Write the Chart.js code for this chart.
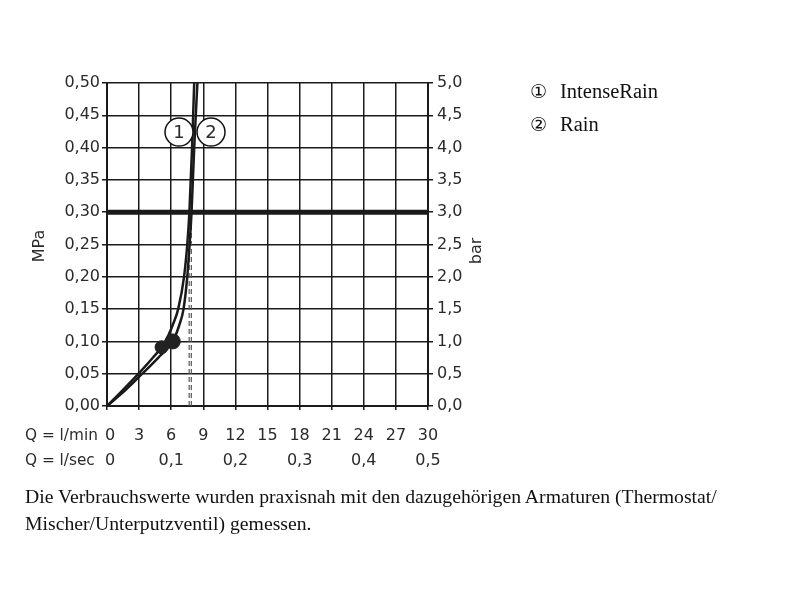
<!DOCTYPE html>
<html>
<head>
<meta charset="utf-8">
<script src="https://cdn.jsdelivr.net/npm/chart.js@4.4.1/dist/chart.umd.min.js"></script>
<style>
  body { margin: 0; background: #fff; }
  #wrap { position: relative; width: 800px; height: 600px; }
  #chart { position: absolute; left: 0; top: 0; }
  .legend { position: absolute; left: 530px; font-family: "Liberation Serif", serif; font-size: 20.5px; line-height: 22px; color: #111; }
  .legend span.num { font-family: "DejaVu Sans", sans-serif; font-size: 19px; margin-right: 13px; }
  .caption { position: absolute; left: 25px; top: 483px; font-family: "Liberation Serif", serif; font-size: 19.7px; line-height: 27px; color: #111; white-space: nowrap; }
</style>
</head>
<body>
<div id="wrap">
  <canvas id="chart" width="800" height="600"></canvas>
  <div class="legend" style="top:80px"><span class="num">①</span>IntenseRain</div>
  <div class="legend" style="top:113px"><span class="num">②</span>Rain</div>
  <div class="caption">Die Verbrauchswerte wurden praxisnah mit den dazugehörigen Armaturen (Thermostat/<br>Mischer/Unterputzventil) gemessen.</div>
</div>
<script>
// flow axis (l/min) and the second row in l/sec
const flowMin = [0, 3, 6, 9, 12, 15, 18, 21, 24, 27, 30];
const flowSec = ['0', '', '0,1', '', '0,2', '', '0,3', '', '0,4', '', '0,5'];
const mpaTicks = [0, 0.05, 0.1, 0.15, 0.2, 0.25, 0.3, 0.35, 0.4, 0.45, 0.5];
const barTicks = [0, 0.5, 1, 1.5, 2, 2.5, 3, 3.5, 4, 4.5, 5];

// curve 1: IntenseRain
const intenseQ = [0, 1.5, 2.95, 4.3, 5.1, 5.75, 6.25, 6.65, 7.2, 7.5, 7.7, 7.95, 8.15];
const intenseP = [0, 0.025, 0.05, 0.075, 0.091, 0.11, 0.13, 0.15, 0.2, 0.25, 0.3, 0.4, 0.5];
// curve 2: Rain
const rainQ = [0, 1.75, 3.3, 4.8, 6.15, 6.75, 7.15, 7.5, 7.72, 7.9, 8.15, 8.45];
const rainP = [0, 0.025, 0.05, 0.075, 0.1, 0.125, 0.15, 0.2, 0.25, 0.3, 0.4, 0.5];

// operating points
const dotQ = [5.1, 6.15];
const dotP = [0.091, 0.1];

// reference pressure line and the double dashed flow line
const limitP = 0.3;
const dashQ = [7.68, 7.88];

// numbered callouts
const markNames = ['1', '2'];
const markQ = [6.73, 9.72];
const markP = [0.424, 0.424];

const pts = (xs, ys) => xs.map((x, i) => ({ x: x, y: ys[i] }));
const comma = (v, d) => v.toFixed(d).replace('.', ',');

const tickFont = { family: 'DejaVu Sans', size: 16 };
const textColor = '#2a2a2a';

const labelPlugin = {
  id: 'labels',
  afterDraw(chart) {
    const ctx = chart.ctx;
    const x = chart.scales.x, y = chart.scales.y;
    ctx.save();
    ctx.fillStyle = textColor;
    ctx.textBaseline = 'middle';
    // two rows of flow labels
    ctx.textAlign = 'left';
    ctx.font = '15.3px "DejaVu Sans"';
    ctx.fillText('Q = l/min', 25, 436);
    ctx.fillText('Q = l/sec', 25, 461);
    ctx.font = '16px "DejaVu Sans"';
    ctx.textAlign = 'center';
    flowMin.forEach((v, i) => {
      const px = x.getPixelForValue(v) + (v === 0 ? 3 : 0);
      ctx.fillText(String(v), px, 436);
      if (flowSec[i]) ctx.fillText(flowSec[i], px, 461);
    });
    // axis titles, both reading bottom to top
    ctx.save();
    ctx.translate(40, 246);
    ctx.rotate(-Math.PI / 2);
    ctx.fillText('MPa', 0, 0);
    ctx.restore();
    ctx.save();
    ctx.translate(477, 251);
    ctx.rotate(-Math.PI / 2);
    ctx.fillText('bar', 0, 0);
    ctx.restore();
    // callout numbers
    ctx.font = '18px "DejaVu Sans"';
    markNames.forEach((n, i) => {
      ctx.fillText(n, x.getPixelForValue(markQ[i]), y.getPixelForValue(markP[i]) + 1);
    });
    ctx.restore();
  }
};

new Chart(document.getElementById('chart'), {
  type: 'scatter',
  data: {
    datasets: [
      {
        label: 'marks',
        data: pts(markQ, markP),
        pointRadius: 14,
        pointBackgroundColor: '#fff',
        pointBorderColor: '#111',
        pointBorderWidth: 1.5,
        order: 0
      },
      {
        label: 'points',
        data: pts(dotQ, dotP),
        pointRadius: [6.5, 7.5],
        pointBackgroundColor: '#222',
        pointBorderColor: '#222',
        order: 1
      },
      {
        label: 'IntenseRain',
        data: pts(intenseQ, intenseP),
        showLine: true,
        borderColor: '#1a1a1a',
        borderWidth: 2.5,
        pointRadius: 0,
        cubicInterpolationMode: 'monotone',
        order: 2
      },
      {
        label: 'Rain',
        data: pts(rainQ, rainP),
        showLine: true,
        borderColor: '#1a1a1a',
        borderWidth: 2.5,
        pointRadius: 0,
        cubicInterpolationMode: 'monotone',
        order: 2
      },
      {
        label: 'limit',
        data: [{ x: 0, y: limitP }, { x: 30, y: limitP }],
        showLine: true,
        borderColor: '#1a1a1a',
        borderWidth: 5,
        pointRadius: 0,
        order: 3
      },
      ...dashQ.map(q => ({
        label: 'dash',
        data: [{ x: q, y: 0 }, { x: q, y: limitP }],
        showLine: true,
        borderColor: '#555',
        borderWidth: 1.2,
        borderDash: [5, 3],
        pointRadius: 0,
        order: 4
      }))
    ]
  },
  options: {
    responsive: false,
    animation: false,
    layout: { padding: { top: 83, left: 0, right: 0, bottom: 0 } },
    plugins: { legend: { display: false }, tooltip: { enabled: false } },
    scales: {
      x: {
        type: 'linear',
        min: 0,
        max: 30,
        afterBuildTicks: s => { s.ticks = flowMin.map(v => ({ value: v })); },
        afterFit: s => { s.height = 194; },
        ticks: { display: false },
        grid: { color: '#1a1a1a', lineWidth: 1.5, tickLength: 4 },
        border: { color: '#1a1a1a', width: 2 }
      },
      y: {
        type: 'linear',
        position: 'left',
        min: 0,
        max: 0.5,
        afterBuildTicks: s => { s.ticks = mpaTicks.map(v => ({ value: v })); },
        afterFit: s => { s.width = 107; },
        ticks: { font: tickFont, color: textColor, padding: 2, callback: v => comma(v, 2) },
        grid: { color: '#1a1a1a', lineWidth: 1.5, tickLength: 5 },
        border: { color: '#1a1a1a', width: 2 }
      },
      y2: {
        type: 'linear',
        position: 'right',
        min: 0,
        max: 5,
        afterBuildTicks: s => { s.ticks = barTicks.map(v => ({ value: v })); },
        afterFit: s => { s.width = 372; },
        ticks: { font: tickFont, color: textColor, padding: 4, callback: v => comma(v, 1) },
        grid: { drawOnChartArea: false, color: '#1a1a1a', lineWidth: 1.5, tickLength: 5 },
        border: { color: '#1a1a1a', width: 2 }
      }
    }
  },
  plugins: [labelPlugin]
});
</script>
</body>
</html>
